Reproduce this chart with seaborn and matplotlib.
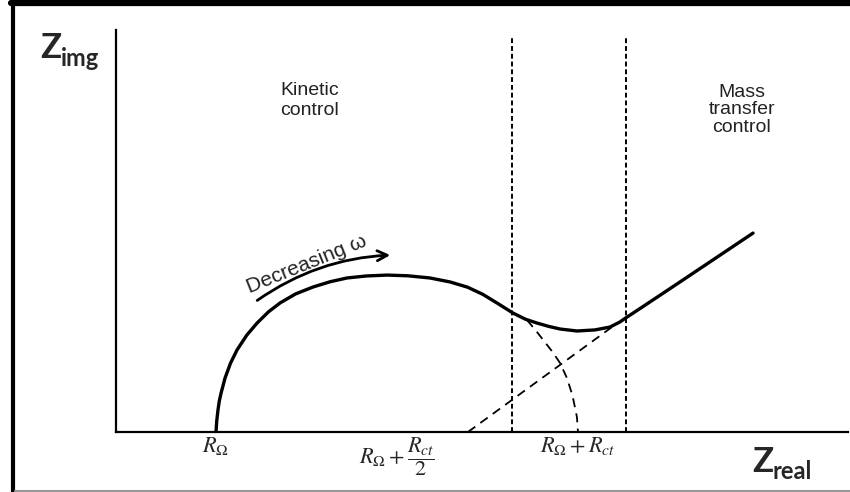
import numpy as np
import pandas as pd
import matplotlib.pyplot as plt
import seaborn as sns
from matplotlib.lines import Line2D

sns.set_theme(style='white')
plt.rcParams['font.family'] = ['Liberation Sans', 'DejaVu Sans']
plt.rcParams['mathtext.fontset'] = 'stix'

# values (Z units, R_ohm = 1, R_ct = 2)
r_ohm = 1.0
r_ct = 2.0
x_ticks = [1.0, 2.0, 3.0]
tick_labels = [r'$R_\Omega$', r'$R_\Omega+\dfrac{R_{ct}}{2}$', r'$R_\Omega+R_{ct}$']

curve_x = [1.000, 1.004, 1.011, 1.018, 1.028, 1.050, 1.080, 1.116, 1.170, 1.227,
           1.290, 1.354, 1.440, 1.536, 1.630, 1.724, 1.830, 1.945, 2.060, 2.182,
           2.293, 2.390, 2.475, 2.560, 2.641, 2.710, 2.773, 2.840, 2.901, 2.994,
           3.094, 3.177, 3.230, 3.271, 3.350, 3.460, 3.580, 3.967]
curve_y = [0.000, 0.060, 0.122, 0.170, 0.215, 0.298, 0.380, 0.453, 0.535, 0.602,
           0.664, 0.713, 0.763, 0.801, 0.830, 0.851, 0.862, 0.867, 0.863, 0.851,
           0.829, 0.800, 0.760, 0.708, 0.657, 0.623, 0.602, 0.583, 0.569, 0.558,
           0.564, 0.580, 0.607, 0.635, 0.687, 0.760, 0.840, 1.099]

arc_x = [2.718, 2.765, 2.812, 2.858, 2.901, 2.939, 2.970, 2.994, 3.000]
arc_y = [0.619, 0.563, 0.503, 0.444, 0.381, 0.298, 0.200, 0.083, 0.000]

warburg_x = [2.392, 3.188]
warburg_y = [0.000, 0.580]

bounds_x = [2.635, 3.265]
bounds_top = 2.182

arrow_start = (1.215, 0.718)
arrow_end = (1.978, 0.978)

df = pd.DataFrame({'Zreal': curve_x, 'Zimg': curve_y})

fig = plt.figure(figsize=(8.5, 4.92), dpi=100)
ax = fig.add_axes([116 / 850, 60 / 492, 732 / 850, 402 / 492])

sns.lineplot(data=df, x='Zreal', y='Zimg', sort=False, estimator=None,
             color='black', linewidth=2.4, ax=ax)
ax.plot(arc_x, arc_y, color='black', linewidth=1.3, dashes=(5, 3.5))
ax.plot(warburg_x, warburg_y, color='black', linewidth=1.3, dashes=(5, 3.5))
for bx in bounds_x:
    ax.plot([bx, bx], [0, bounds_top], color='black', linewidth=1.4, dashes=(2.5, 1.5))

ax.annotate('', xy=arrow_end, xytext=arrow_start,
            arrowprops=dict(arrowstyle='->', color='black', lw=2.0,
                            mutation_scale=18,
                            connectionstyle='arc3,rad=-0.15'))
ax.text(1.50, 0.925, 'Decreasing ω', rotation=22, fontsize=15,
        ha='center', va='center', color='#222222')

ax.text(1.519, 1.83, 'Kinetic\ncontrol', fontsize=14, ha='center', va='center',
        linespacing=1.2, color='#222222')
ax.text(3.906, 1.78, 'Mass\ntransfer\ncontrol', fontsize=14, ha='center',
        va='center', linespacing=1.05, color='#222222')

ax.set_xlim(81 / 181, 813 / 181)
ax.set_ylim(0, 402 / 181)
ax.set_xticks(x_ticks)
ax.set_xticklabels(tick_labels, fontsize=16)
ax.set_xticks([r_ohm + r_ct / 2], minor=True)
ax.tick_params(axis='x', which='major', length=0, pad=2)
ax.tick_params(axis='x', which='minor', direction='in', length=20, width=1.2,
               color='black', bottom=True)
ax.set_yticks([])
ax.set_xlabel('')
ax.set_ylabel('')
for side in ['top', 'right']:
    ax.spines[side].set_visible(False)
for side in ['left', 'bottom']:
    ax.spines[side].set_color('black')
    ax.spines[side].set_linewidth(1.6)

# axis names
fig.text(40 / 850, 1 - 58 / 492, 'Z', fontsize=25, fontweight='bold',
         family='Lato', va='baseline')
fig.text(61 / 850, 1 - 66 / 492, 'img', fontsize=17, fontweight='bold',
         family='Lato', va='baseline')
fig.text(752 / 850, 1 - 472 / 492, 'Z', fontsize=25, fontweight='bold',
         family='Lato', va='baseline')
fig.text(773 / 850, 1 - 479 / 492, 'real', fontsize=17, fontweight='bold',
         family='Lato', va='baseline')

# picture frame
fig.add_artist(Line2D([11 / 850, 1], [1 - 3 / 492, 1 - 3 / 492],
                      transform=fig.transFigure, color='black', linewidth=4.5))
fig.add_artist(Line2D([13 / 850, 13 / 850], [0, 1],
                      transform=fig.transFigure, color='black', linewidth=3))
fig.add_artist(Line2D([15 / 850, 1], [1.5 / 492, 1.5 / 492],
                      transform=fig.transFigure, color='#999999', linewidth=1.5))

fig.savefig('out.png', dpi=100)
